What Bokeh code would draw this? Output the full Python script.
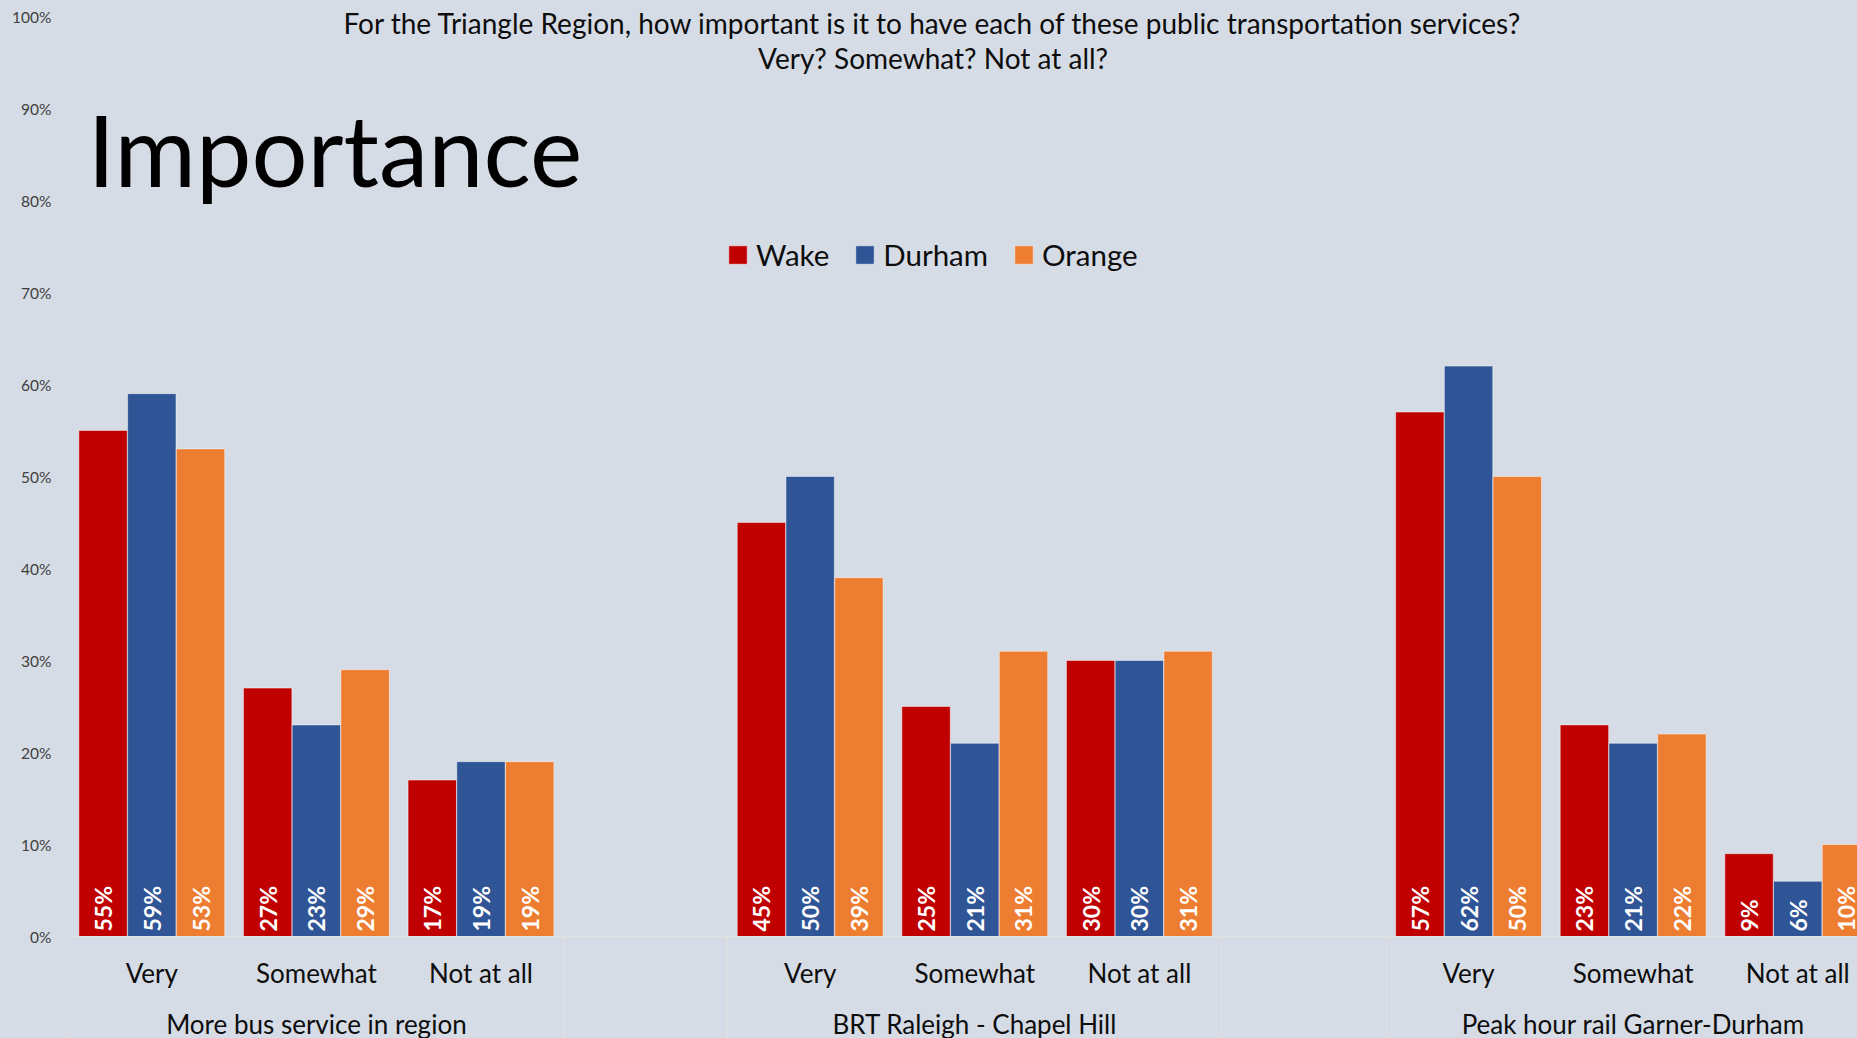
import numpy as np
from bokeh.plotting import figure
from bokeh.models import (Range1d, LinearAxis, FixedTicker, PrintfTickFormatter,
                          Legend, LegendItem, Label, GlobalInlineStyleSheet)
from bokeh.core.properties import value
from bokeh.embed import file_html
from bokeh.resources import INLINE

# ---------------- data ----------------
groups = ["More bus service in region", "BRT Raleigh - Chapel Hill", "Peak hour rail Garner-Durham"]
levels = ["Very", "Somewhat", "Not at all"]
counties = ["Wake", "Durham", "Orange"]
wake = [55, 27, 17, 45, 25, 30, 57, 23, 9]
durham = [59, 23, 19, 50, 21, 30, 62, 21, 6]
orange = [53, 29, 19, 39, 31, 31, 50, 22, 10]
y_ticks = [0, 10, 20, 30, 40, 50, 60, 70, 80, 90, 100]
colors = ["#C00000", "#2F5597", "#ED7D31"]
title_lines = ["For the Triangle Region, how important is it to have each of these public transportation services?",
               "Very? Somewhat? Not at all?"]
heading = "Importance"

FONT = "Lato"
BG = "#D6DCE5"
TXT = "#0d0d0d"
AXC = "#E3E0E0"

W, H = 1857, 1038
BASE = 936          # pixel row of the 0 % baseline
PX_PER_PCT = 9.2
SEP_LEN = 102
slots_per_group = len(levels) + 1
x_centers = [g * slots_per_group + k + 0.5 for g in range(len(groups)) for k in range(len(levels))]
group_centers = [g * slots_per_group + (len(levels)) / 2 for g in range(len(groups))]
boundaries = sorted(set([g * slots_per_group for g in range(len(groups))] +
                        [g * slots_per_group + len(levels) for g in range(len(groups))]))

y_lo = -(H - BASE) / PX_PER_PCT
y_hi = BASE / PX_PER_PCT
p = figure(width=W, height=H, output_backend="svg", toolbar_location=None,
           x_range=Range1d(0, 10.863), y_range=Range1d(y_lo, y_hi),
           min_border_left=69, min_border_right=0, min_border_top=0, min_border_bottom=0,
           x_axis_location=None)
p.background_fill_color = BG
p.border_fill_color = BG
p.outline_line_color = None
p.xgrid.visible = False
p.ygrid.visible = False

bar_w = 0.294
step = 0.296
series = [wake, durham, orange]
renderers = []
for j, (vals, col) in enumerate(zip(series, colors)):
    xs = [c + (j - 1) * step for c in x_centers]
    r = p.vbar(x=xs, top=vals, bottom=0, width=bar_w, fill_color=col,
               line_color="white", line_alpha=0.45, line_width=1)
    renderers.append(r)
    p.text(x=xs, y=[0] * len(xs), text=[f"{v}%" for v in vals], angle=np.pi / 2,
           text_align="left", text_baseline="middle", y_offset=-5,
           text_color="white", text_font=value(FONT), text_font_style="bold",
           text_font_size="23px")

# y axis
ya = p.yaxis[0]
ya.ticker = FixedTicker(ticks=y_ticks)
ya.formatter = PrintfTickFormatter(format="%d%%")
ya.axis_line_color = None
ya.major_tick_line_color = None
ya.minor_tick_line_color = None
ya.major_label_text_font = FONT
ya.major_label_text_font_size = "15.5px"
ya.major_label_text_color = "#404040"
ya.major_label_standoff = 12

# category axis (minor ticks draw the separators between groups)
cat_axis = LinearAxis(ticker=FixedTicker(ticks=x_centers, minor_ticks=boundaries),
                      major_label_overrides={c: levels[i % len(levels)] for i, c in enumerate(x_centers)},
                      fixed_location=0)
cat_axis.axis_line_color = AXC
cat_axis.axis_line_width = 1
cat_axis.major_tick_line_color = None
cat_axis.minor_tick_line_color = AXC
cat_axis.minor_tick_in = 0
cat_axis.minor_tick_out = SEP_LEN
cat_axis.major_label_standoff = 20 - SEP_LEN
cat_axis.major_label_text_font = FONT
cat_axis.major_label_text_font_size = "26px"
cat_axis.major_label_text_color = TXT
p.add_layout(cat_axis, "below")

grp_axis = LinearAxis(ticker=FixedTicker(ticks=group_centers, minor_ticks=[]),
                      major_label_overrides={c: groups[i] for i, c in enumerate(group_centers)},
                      fixed_location=0)
grp_axis.axis_line_color = None
grp_axis.major_tick_line_color = None
grp_axis.minor_tick_line_color = None
grp_axis.major_tick_out = 0
grp_axis.minor_tick_out = 0
grp_axis.major_label_standoff = 71
grp_axis.major_label_text_font = FONT
grp_axis.major_label_text_font_size = "26px"
grp_axis.major_label_text_color = TXT
p.add_layout(grp_axis, "below")

# legend
off = H - BASE
legend = Legend(items=[LegendItem(label=c, renderers=[r]) for c, r in zip(counties, renderers)],
                orientation="horizontal", location=(657, 664 + off), glyph_width=23, glyph_height=23,
                label_standoff=7, spacing=24, padding=0, border_line_color=None,
                background_fill_alpha=0, label_text_font=FONT, label_text_font_size="29.5px",
                label_text_color=TXT)
p.add_layout(legend, "center")

# titles
p.add_layout(Label(x=863.6, y=913.8 + off, x_units="screen", y_units="screen", text=title_lines[0],
                   text_align="center", text_baseline="alphabetic", text_font=FONT,
                   text_font_size="28px", text_color=TXT))
p.add_layout(Label(x=863.6, y=878.4 + off, x_units="screen", y_units="screen", text=title_lines[1],
                   text_align="center", text_baseline="alphabetic", text_font=FONT,
                   text_font_size="28px", text_color=TXT))
p.add_layout(Label(x=18, y=788 + off, x_units="screen", y_units="screen", text=heading,
                   text_align="left", text_baseline="alphabetic", text_font=FONT,
                   text_font_size="99px", text_color="#000000"))

p.stylesheets = [GlobalInlineStyleSheet(css="body { background-color: #D6DCE5; }")]

open("out.html", "w").write(file_html(p, INLINE))
